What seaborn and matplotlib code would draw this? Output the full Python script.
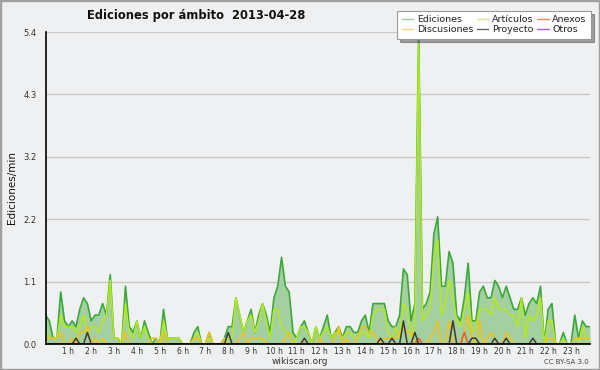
import matplotlib
matplotlib.use("Agg")
import matplotlib.pyplot as plt
from matplotlib.patches import Rectangle
from matplotlib.ticker import FixedLocator, MultipleLocator, AutoMinorLocator
import numpy as np
import pandas as pd
import seaborn as sns

# 10-minute slots over the day (0 = 00:00, 143 = 23:50)
slots = list(range(144))

ediciones = [
    0.5, 0.4, 0.1, 0.1, 0.9, 0.4, 0.3, 0.4, 0.3, 0.6, 0.8, 0.7,
    0.4, 0.5, 0.5, 0.7, 0.5, 1.2, 0.1, 0.1, 0.0, 1.0, 0.3, 0.2,
    0.4, 0.1, 0.4, 0.2, 0.0, 0.1, 0.0, 0.6, 0.1, 0.1, 0.1, 0.1,
    0.0, 0.0, 0.0, 0.2, 0.3, 0.0, 0.0, 0.2, 0.0, 0.0, 0.0, 0.1,
    0.3, 0.3, 0.8, 0.5, 0.2, 0.4, 0.6, 0.2, 0.5, 0.7, 0.5, 0.2,
    0.8, 1.0, 1.5, 1.0, 0.9, 0.2, 0.1, 0.3, 0.4, 0.2, 0.0, 0.3,
    0.1, 0.3, 0.5, 0.1, 0.2, 0.3, 0.1, 0.3, 0.3, 0.2, 0.2, 0.4,
    0.5, 0.2, 0.7, 0.7, 0.7, 0.7, 0.4, 0.3, 0.3, 0.5, 1.3, 1.2,
    0.4, 0.7, 5.4, 0.6, 0.7, 0.9, 1.9, 2.2, 1.0, 1.0, 1.6, 1.4,
    0.5, 0.4, 0.8, 1.4, 0.4, 0.4, 0.9, 1.0, 0.8, 0.8, 1.1, 1.0,
    0.8, 1.0, 0.8, 0.6, 0.6, 0.8, 0.5, 0.7, 0.8, 0.7, 1.0, 0.0,
    0.6, 0.7, 0.0, 0.0, 0.2, 0.0, 0.0, 0.5, 0.1, 0.4, 0.3, 0.3,
]

articulos = [
    0.3, 0.1, 0.1, 0.1, 0.5, 0.3, 0.3, 0.3, 0.2, 0.3, 0.5, 0.2,
    0.3, 0.3, 0.2, 0.4, 0.5, 1.1, 0.1, 0.1, 0.0, 0.7, 0.2, 0.1,
    0.4, 0.1, 0.3, 0.1, 0.0, 0.0, 0.0, 0.4, 0.1, 0.1, 0.1, 0.1,
    0.0, 0.0, 0.0, 0.1, 0.2, 0.0, 0.0, 0.1, 0.0, 0.0, 0.0, 0.0,
    0.1, 0.1, 0.8, 0.5, 0.2, 0.4, 0.5, 0.2, 0.4, 0.7, 0.4, 0.1,
    0.6, 0.6, 0.3, 0.2, 0.2, 0.0, 0.1, 0.3, 0.3, 0.2, 0.0, 0.3,
    0.1, 0.2, 0.3, 0.1, 0.2, 0.2, 0.1, 0.2, 0.2, 0.1, 0.1, 0.2,
    0.2, 0.1, 0.5, 0.6, 0.6, 0.6, 0.2, 0.1, 0.3, 0.1, 0.7, 0.6,
    0.1, 0.4, 5.2, 0.4, 0.5, 0.6, 1.5, 1.8, 0.5, 0.7, 1.1, 0.8,
    0.4, 0.3, 0.6, 0.9, 0.2, 0.3, 0.6, 0.6, 0.6, 0.5, 0.8, 0.6,
    0.6, 0.6, 0.5, 0.5, 0.3, 0.8, 0.1, 0.5, 0.4, 0.5, 0.8, 0.0,
    0.4, 0.4, 0.0, 0.0, 0.1, 0.0, 0.0, 0.0, 0.0, 0.3, 0.1, 0.1,
]

discusiones = [
    0.1, 0.1, 0.1, 0.1, 0.2, 0.0, 0.0, 0.1, 0.0, 0.2, 0.2, 0.3,
    0.0, 0.1, 0.0, 0.1, 0.0, 0.0, 0.0, 0.0, 0.0, 0.2, 0.0, 0.0,
    0.0, 0.0, 0.0, 0.0, 0.1, 0.1, 0.0, 0.2, 0.0, 0.0, 0.0, 0.0,
    0.0, 0.0, 0.0, 0.1, 0.1, 0.0, 0.0, 0.2, 0.0, 0.0, 0.0, 0.1,
    0.0, 0.0, 0.0, 0.1, 0.2, 0.0, 0.1, 0.1, 0.1, 0.1, 0.0, 0.0,
    0.0, 0.0, 0.0, 0.1, 0.2, 0.0, 0.0, 0.0, 0.1, 0.0, 0.0, 0.0,
    0.1, 0.0, 0.0, 0.0, 0.1, 0.3, 0.0, 0.1, 0.0, 0.0, 0.1, 0.3,
    0.3, 0.2, 0.2, 0.1, 0.0, 0.1, 0.1, 0.1, 0.1, 0.2, 0.3, 0.2,
    0.2, 0.0, 0.0, 0.0, 0.0, 0.1, 0.2, 0.4, 0.0, 0.0, 0.4, 0.0,
    0.0, 0.0, 0.2, 0.5, 0.1, 0.0, 0.4, 0.0, 0.1, 0.2, 0.1, 0.0,
    0.0, 0.2, 0.1, 0.0, 0.0, 0.0, 0.0, 0.0, 0.0, 0.0, 0.0, 0.0,
    0.1, 0.1, 0.0, 0.0, 0.0, 0.0, 0.0, 0.1, 0.1, 0.1, 0.1, 0.1,
]

proyecto = [
    0.0, 0.0, 0.0, 0.0, 0.0, 0.0, 0.0, 0.0, 0.1, 0.0, 0.0, 0.2,
    0.0, 0.0, 0.0, 0.0, 0.0, 0.0, 0.0, 0.0, 0.0, 0.0, 0.0, 0.0,
    0.0, 0.0, 0.0, 0.0, 0.0, 0.0, 0.0, 0.0, 0.0, 0.0, 0.0, 0.0,
    0.0, 0.0, 0.0, 0.0, 0.0, 0.0, 0.0, 0.0, 0.0, 0.0, 0.0, 0.0,
    0.2, 0.0, 0.0, 0.0, 0.0, 0.0, 0.0, 0.0, 0.0, 0.0, 0.0, 0.0,
    0.0, 0.0, 0.0, 0.0, 0.0, 0.0, 0.0, 0.0, 0.1, 0.0, 0.0, 0.0,
    0.0, 0.0, 0.0, 0.0, 0.0, 0.0, 0.0, 0.0, 0.0, 0.0, 0.0, 0.0,
    0.0, 0.0, 0.0, 0.0, 0.1, 0.0, 0.0, 0.1, 0.0, 0.0, 0.4, 0.0,
    0.0, 0.2, 0.0, 0.0, 0.0, 0.0, 0.0, 0.0, 0.0, 0.0, 0.0, 0.4,
    0.0, 0.0, 0.0, 0.0, 0.1, 0.1, 0.0, 0.0, 0.0, 0.0, 0.1, 0.0,
    0.0, 0.1, 0.0, 0.0, 0.0, 0.0, 0.0, 0.0, 0.1, 0.0, 0.0, 0.0,
    0.0, 0.0, 0.0, 0.0, 0.0, 0.0, 0.0, 0.0, 0.0, 0.0, 0.0, 0.0,
]

anexos = [0.0] * 98 + [0.1] + [0.0] * 11 + [0.2] + [0.0] * 33
otros = [0.0] * 144

hour_ticks = [6, 12, 18, 24, 30, 36, 42, 48, 54, 60, 66, 72,
              78, 84, 90, 96, 102, 108, 114, 120, 126, 132, 138]
hour_labels = ["1 h", "2 h", "3 h", "4 h", "5 h", "6 h", "7 h", "8 h",
               "9 h", "10 h", "11 h", "12 h", "13 h", "14 h", "15 h", "16 h",
               "17 h", "18 h", "19 h", "20 h", "21 h", "22 h", "23 h"]
y_ticks = [0.0, 1.08, 2.16, 3.24, 4.32, 5.4]

df = pd.DataFrame({
    "slot": slots,
    "Ediciones": ediciones,
    "Artículos": articulos,
    "Anexos": anexos,
    "Discusiones": discusiones,
    "Proyecto": proyecto,
    "Otros": otros,
})

sns.set_style("white")
plt.rcParams["font.family"] = ["DejaVu Sans"]

BG = "#eff0f2"
fig = plt.figure(figsize=(6.0, 3.7), dpi=100)
fig.patch.set_facecolor(BG)
ax = fig.add_axes([45.5 / 600, 26 / 370, (590 - 45.5) / 600, (344 - 32) / 370])
ax.set_facecolor(BG)

colors = {
    "Ediciones": "#3aa83a",
    "Artículos": "#b4ea1c",
    "Anexos": "#f05a1e",
    "Discusiones": "#f2c21a",
    "Proyecto": "#3a3a3a",
    "Otros": "#9b40e0",
}
legend_colors = {
    "Ediciones": "#8fd18f",
    "Artículos": "#d2f070",
    "Anexos": "#f08a5a",
    "Discusiones": "#f5d470",
    "Proyecto": "#666666",
    "Otros": "#a660ee",
}

ax.fill_between(df["slot"], df["Ediciones"], 0, color="#a4cfa0", lw=0, zorder=1)
for name in ["Otros", "Ediciones", "Artículos", "Discusiones", "Anexos", "Proyecto"]:
    sns.lineplot(data=df, x="slot", y=name, ax=ax, color=colors[name],
                 lw=1.2 if name == "Ediciones" else 1.1, legend=False, zorder=3)

ax.set_xlim(0, 143)
ax.set_ylim(0, 5.4)
ax.set_xlabel("")
ax.set_ylabel("")

ax.yaxis.set_major_locator(FixedLocator(y_ticks))
ax.set_yticklabels([f"{v:.1f}" for v in y_ticks])
ax.yaxis.set_minor_locator(AutoMinorLocator(4))
ax.xaxis.set_major_locator(FixedLocator(hour_ticks))
ax.set_xticklabels(hour_labels)
ax.xaxis.set_minor_locator(MultipleLocator(1))

ax.tick_params(axis="y", which="major", direction="out", length=5, width=1,
               color="black", labelsize=6, labelcolor="#333333", pad=1.5)
ax.tick_params(axis="x", which="major", direction="out", length=4, width=1,
               color="black", labelsize=5.5, labelcolor="#333333", pad=-1.5)
ax.tick_params(axis="both", which="minor", direction="out", length=3, width=1,
               color="black")

ax.grid(axis="y", which="major", color="#c8c8c8", lw=1, zorder=0)
ax.set_axisbelow(True)
for s in ["top", "right"]:
    ax.spines[s].set_visible(False)
for s in ["left", "bottom"]:
    ax.spines[s].set_color("black")
    ax.spines[s].set_linewidth(1.2)
    ax.spines[s].set_zorder(5)

# Title, axis label and footers
fig.text(196 / 600, 1 - 15 / 370, "Ediciones por ámbito  2013-04-28",
         ha="center", va="center", fontsize=8.3, fontweight="bold", color="#111111")
fig.text(12 / 600, 1 - 188 / 370, "Ediciones/min", rotation=90,
         ha="center", va="center", fontsize=7.5, color="#111111")
fig.text(300 / 600, 1 - 361 / 370, "wikiscan.org", ha="center", va="center",
         fontsize=6.5, color="#333333")
fig.text(589 / 600, 1 - 362 / 370, "CC BY-SA 3.0", ha="right", va="center",
         fontsize=5, color="#444444")

# Legend
order = ["Ediciones", "Discusiones", "Artículos", "Proyecto", "Anexos", "Otros"]
handles = [plt.Line2D([0], [0], color=legend_colors[n], lw=1) for n in order]
leg = fig.legend(handles, order, loc="upper right", bbox_to_anchor=(0.985, 0.970),
                 ncol=3, fontsize=6.8, frameon=True, fancybox=False, shadow=True,
                 handlelength=1.2, handletextpad=0.4, columnspacing=0.4,
                 labelspacing=0.12, borderpad=0.45, borderaxespad=0.0)
leg.get_frame().set_edgecolor("#999999")
leg.get_frame().set_facecolor("white")
leg.get_frame().set_linewidth(0.8)
for t in leg.get_texts():
    t.set_color("#222222")

# Outer frame of the image
fig.patches.append(Rectangle((0, 0), 1, 1, transform=fig.transFigure,
                             fill=False, edgecolor="#a0a0a0", lw=2.5, zorder=10))

fig.savefig("out.png", dpi=100, facecolor=BG)
